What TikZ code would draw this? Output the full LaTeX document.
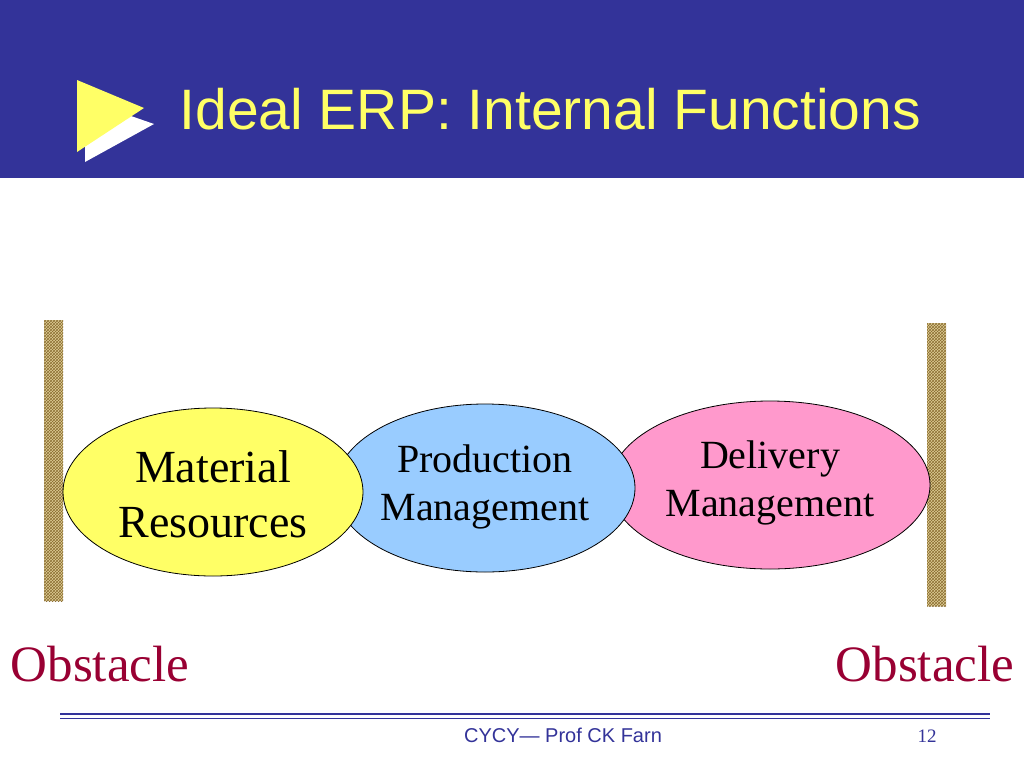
\documentclass[tikz,border=0pt]{standalone}
\usepackage{fontspec}
\setmainfont{Liberation Serif}
\newfontfamily\hv{Liberation Sans}
\usetikzlibrary{patterns}
\definecolor{hdr}{RGB}{51,51,153}
\definecolor{ttl}{RGB}{255,255,102}
\definecolor{obs}{RGB}{153,0,51}
\definecolor{tan}{RGB}{222,206,150}
\definecolor{tand}{RGB}{140,110,50}
\tikzset{
  bar/.style={fill=tan,draw=none},
  lbl/.style={align=center,font=\fontsize{40}{48}\selectfont},
  obst/.style={text=obs,font=\fontsize{51}{56}\selectfont}
}
\begin{document}
\begin{tikzpicture}[x=1pt,y=-1pt]
\useasboundingbox (0,0) rectangle (1024,768);
\fill[white] (0,0) rectangle (1024,768);
\fill[hdr] (0,0) rectangle (1024,178);
\fill[white] (85,100) -- (154,124) -- (85,162) -- cycle;
\fill[ttl] (77,80) -- (144,108) -- (77,152) -- cycle;
\node[anchor=west,text=ttl,font=\hv\fontsize{57}{64}\selectfont] (title) at (176,109) {Ideal ERP: Internal Functions};
% bars
\fill[bar] (44,320) rectangle (63,601);
\fill[pattern=crosshatch,pattern color=tand] (44,320) rectangle (63,601);
\fill[bar] (927,323) rectangle (946,606);
\fill[pattern=crosshatch,pattern color=tand] (927,323) rectangle (946,606);
% ellipses
\filldraw[fill={rgb,255:red,255;green,153;blue,204},line width=0.8pt] (770,485) ellipse [x radius=160,y radius=84];
\filldraw[fill={rgb,255:red,153;green,204;blue,255},line width=0.8pt] (485,488) ellipse [x radius=150,y radius=84];
\filldraw[fill={rgb,255:red,255;green,255;blue,102},line width=0.8pt] (213,492) ellipse [x radius=150,y radius=84];
\node[lbl,font=\fontsize{46}{55}\selectfont] (mat) at (213,494) {Material\\Resources};
\node[lbl] (prod) at (485,487) {Production\\Management};
\node[lbl] (del) at (770,483) {Delivery\\Management};
\node[obst] (o1) at (100,664) {Obstacle};
\node[obst] (o2) at (925,664) {Obstacle};
% footer
\draw[hdr,line width=1.2pt] (60,714) -- (990,714);
\draw[hdr,line width=0.6pt] (60,718.5) -- (990,718.5);
\node[text=hdr,font=\hv\fontsize{20}{22}\selectfont] (ft) at (563,735) {CYCY— Prof CK Farn};
\node[text=hdr,font=\fontsize{19}{20}\selectfont] (pg) at (927,736) {12};
\end{tikzpicture}
\end{document}
